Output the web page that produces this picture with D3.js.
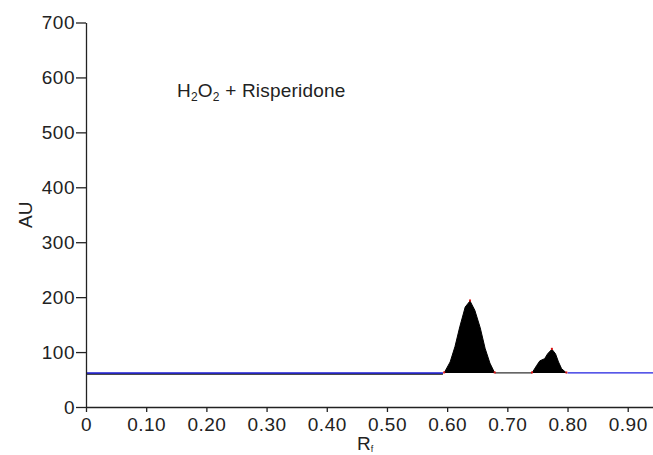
<!DOCTYPE html>
<html>
<head>
<meta charset="utf-8">
<script src="https://cdn.jsdelivr.net/npm/d3@7"></script>
<style>
  body { margin: 0; background: #fff; }
  text { font-family: 'Liberation Sans', Arial, sans-serif; fill: #222; }
</style>
</head>
<body>
<div class="graph"><svg></svg></div>
<script>
// densitogram
const baseline = 62
const peak1Rf = [0.595, 0.605, 0.613, 0.621, 0.630, 0.638, 0.646, 0.655, 0.663, 0.671, 0.679]
const peak1Au = [62, 82, 110, 146, 182, 193, 176, 144, 107, 80, 62]
const peak2Rf = [0.741, 0.749, 0.754, 0.762, 0.767, 0.774, 0.780, 0.785, 0.790, 0.798]
const peak2Au = [62, 76, 84, 88, 97, 105, 97, 82, 70, 62]
const blueLeft = [0, 0.593]
const blueRight = [0.80, 0.942]
const xTicks = [0, 0.1, 0.2, 0.3, 0.4, 0.5, 0.6, 0.7, 0.8, 0.9]
const yTicks = [0, 100, 200, 300, 400, 500, 600, 700]

const width = 653
const height = 455

const svg = d3.select('.graph').select('svg')
  .attr('width', width)
  .attr('height', height)

const x = d3.scaleLinear().domain([0, 0.942]).range([86, 653])
const y = d3.scaleLinear().domain([0, 700]).range([407, 22.5])

const peaks = [
  d3.zip(peak1Rf, peak1Au),
  d3.zip(peak2Rf, peak2Au)
]

const area = d3.area()
  .x(d => x(d[0]))
  .y0(y(baseline))
  .y1(d => y(d[1]))
const line = d3.line()
  .x(d => x(d[0]))
  .y(d => y(d[1]))

// black trace under the blue baseline on the left
svg.append('line')
  .attr('x1', x(blueLeft[0])).attr('x2', x(blueLeft[1]))
  .attr('y1', y(baseline) + 1).attr('y2', y(baseline) + 1)
  .attr('stroke', '#111').attr('stroke-width', 1.5)

// thin line between the peaks
svg.append('line')
  .attr('x1', x(peak1Rf[peak1Rf.length - 1])).attr('x2', x(peak2Rf[0]))
  .attr('y1', y(baseline)).attr('y2', y(baseline))
  .attr('stroke', '#333').attr('stroke-width', 1.2)

peaks.forEach(p => {
  svg.append('path')
    .datum(p)
    .attr('d', area)
    .attr('fill', '#000')
  svg.append('path')
    .datum(p)
    .attr('d', line)
    .attr('fill', 'none')
    .attr('stroke', '#000')
    .attr('stroke-width', 1)
})

svg.append('line')
  .attr('x1', x(blueLeft[0])).attr('x2', x(blueLeft[1]))
  .attr('y1', y(baseline)).attr('y2', y(baseline))
  .attr('stroke', '#1a1ad6').attr('stroke-width', 1.6)
svg.append('line')
  .attr('x1', x(blueRight[0])).attr('x2', x(blueRight[1]))
  .attr('y1', y(baseline)).attr('y2', y(baseline))
  .attr('stroke', '#2020e0').attr('stroke-width', 1.2)

// red markers: start, apex, end of each peak
const marks = []
peaks.forEach(p => {
  const top = p.reduce((a, b) => (b[1] > a[1] ? b : a))
  marks.push(p[0], top, p[p.length - 1])
})
svg.selectAll('rect.mark')
  .data(marks)
  .enter()
  .append('rect')
  .attr('class', 'mark')
  .attr('x', d => x(d[0]) - 1)
  .attr('y', d => y(d[1]) - 1.5)
  .attr('width', 2)
  .attr('height', 2)
  .attr('fill', '#e01010')

// axes
const xAxis = d3.axisBottom(x)
  .tickValues(xTicks)
  .tickSize(5)
  .tickSizeOuter(0)
  .tickPadding(6)
  .tickFormat(d => (d === 0 ? '0' : d3.format('.2f')(d)))
svg.append('g')
  .attr('class', 'x axis')
  .attr('transform', 'translate(0,' + y(0) + ')')
  .call(xAxis)

const yAxis = d3.axisLeft(y)
  .tickValues(yTicks)
  .tickSize(10)
  .tickSizeOuter(0)
  .tickPadding(1)
  .tickFormat(d3.format('d'))
svg.append('g')
  .attr('class', 'y axis')
  .attr('transform', 'translate(' + x(0) + ',0)')
  .call(yAxis)

svg.selectAll('.axis path, .axis line')
  .attr('stroke', '#222')
  .attr('stroke-width', 1.3)
svg.selectAll('.axis text')
  .attr('font-size', 19)
  .attr('letter-spacing', 0.5)
  .attr('fill', '#222')

// axis titles
svg.append('text')
  .attr('transform', 'translate(32,' + y(350) + ') rotate(-90)')
  .attr('text-anchor', 'middle')
  .attr('font-size', 19)
  .text('AU')

const rf = svg.append('text')
  .attr('x', 357)
  .attr('y', 450)
  .attr('font-size', 19)
rf.append('tspan').text('R')
rf.append('tspan').attr('font-size', 9).attr('dy', 2).text('f')

// annotation
const t = svg.append('text')
  .attr('x', 177)
  .attr('y', 97)
  .attr('font-size', 19)
  .attr('letter-spacing', 0.2)
t.append('tspan').text('H')
t.append('tspan').attr('font-size', 12).attr('dy', 4).text('2')
t.append('tspan').attr('dy', -4).text('O')
t.append('tspan').attr('font-size', 12).attr('dy', 4).text('2')
t.append('tspan').attr('dy', -4).text(' + Risperidone')
</script>
</body>
</html>
